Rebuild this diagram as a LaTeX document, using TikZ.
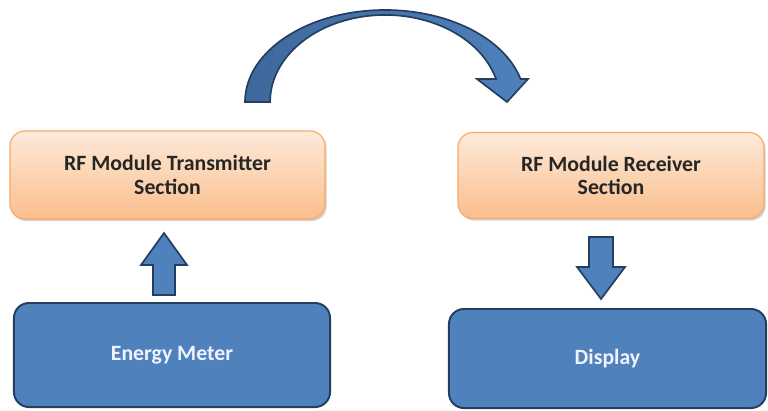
\documentclass[tikz,border=0pt]{standalone}
\usepackage{fontspec}
\setmainfont{Carlito}
\usetikzlibrary{shadows}
\definecolor{peachtop}{RGB}{253,234,218}
\definecolor{peachbot}{RGB}{250,190,140}
\definecolor{peachedge}{RGB}{248,168,104}
\definecolor{boxblue}{RGB}{79,129,189}
\definecolor{edgeblue}{RGB}{36,62,96}
\definecolor{darkarrow}{RGB}{62,104,156}
\begin{document}
\begin{tikzpicture}[x=0.025cm, y=-0.025cm,
	rfbox/.style={rectangle, rounded corners=0.375cm, draw=peachedge, line width=0.8pt,
		top color=peachtop, bottom color=peachbot,
		drop shadow={shadow xshift=1.2pt, shadow yshift=-1.5pt, opacity=0.35},
		align=center, font=\fontsize{15.5}{16.8}\selectfont\bfseries, text=black!85},
	bluebox/.style={rectangle, rounded corners=0.375cm, draw=edgeblue, line width=1.4pt,
		fill=boxblue, align=center, font=\fontsize{15.5}{16.8}\selectfont\bfseries, text=white!95!blue},
	blockarrow/.style={draw=edgeblue, line width=1.2pt, fill=boxblue, line join=miter}]
	\useasboundingbox (0,0) rectangle (768,410);
	% boxes
	\node [rfbox, minimum width=7.875cm, minimum height=2.2cm] (tx) at (167.5,175) {RF Module Transmitter\\Section};
	\node [rfbox, minimum width=7.65cm, minimum height=2.15cm] (rx) at (611,175.5) {RF Module Receiver\\Section};
	\node [bluebox, minimum width=7.9cm, minimum height=2.6cm] (meter) at (172,355) {Energy Meter};
	\node [bluebox, minimum width=7.925cm, minimum height=2.475cm] (disp) at (607.5,358.5) {Display};
	% up arrow, meter to transmitter
	\draw [blockarrow] (153,295) -- (153,265) -- (141,265) -- (164,233) -- (187,265) -- (175,265) -- (175,295) -- cycle;
	% down arrow, receiver to display
	\draw [blockarrow] (589,237) -- (589,267) -- (577,267) -- (601,299) -- (625,267) -- (613,267) -- (613,237) -- cycle;
	% curved arrow over the top
	\draw [blockarrow, left color=darkarrow, right color=boxblue]
		(245,102) arc [start angle=180, end angle=345.5, x radius=140, y radius=92]
		-- (528,79) -- (507,102) -- (477,79) -- (496,79)
		arc [start angle=344.7, end angle=180, x radius=115, y radius=87] -- cycle;
\end{tikzpicture}
\end{document}
